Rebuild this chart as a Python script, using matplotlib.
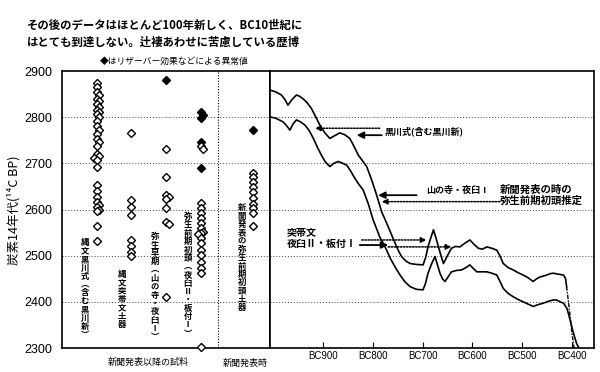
#!/usr/bin/env python3
"""
Radiocarbon dates of Jomon / Yayoi pottery samples vs. the calibration band.
Left: measured 14C ages per sample group. Right: calibration curve band.
"""

import matplotlib
matplotlib.use('Agg')
import matplotlib.pyplot as plt

plt.rcParams['font.family'] = ['Noto Sans CJK JP', 'DejaVu Sans']

# ---- data -------------------------------------------------------------
group_pos = [1, 2, 3, 4, 5.5]
group_labels = [
    "縄文黒川式︵含む黒川新︶",
    "縄文突帯文土器",
    "弥生早期︵山の寺・夜臼Ⅰ︶",
    "弥生前期初頭︵夜臼Ⅱ・板付Ⅰ︶",
    "新聞発表の弥生前期初頭土器",
]
open_vals = [
    [2875, 2865, 2855, 2847, 2840, 2834, 2828, 2822, 2816, 2812, 2806, 2800,
     2791, 2780, 2772, 2763, 2752, 2746, 2738, 2720, 2715, 2712, 2707, 2692,
     2652, 2640, 2628, 2617, 2609, 2605, 2600, 2596, 2565, 2532],
    [2765, 2620, 2605, 2589, 2535, 2520, 2509, 2499],
    [2731, 2671, 2632, 2627, 2622, 2604, 2572, 2568, 2410],
    [2737, 2730, 2613, 2603, 2592, 2581, 2570, 2559, 2552, 2550, 2548, 2538,
     2527, 2512, 2501, 2487, 2473, 2462, 2302],
    [2680, 2670, 2659, 2648, 2637, 2624, 2612, 2603, 2592, 2564],
]
filled_vals = [
    [],
    [],
    [2880],
    [2811, 2805, 2799, 2747, 2690],
    [2772],
]

# calibration band (BC year, 14C BP)
upper_bc = [1004, 995, 983, 976, 970, 962, 953, 946, 940, 932, 923, 914, 906,
            896, 886, 876, 866, 856, 846, 838, 829, 820, 812, 802, 792, 782,
            775, 769, 762, 755, 748, 742, 733, 725, 712, 699, 694, 689, 683,
            678, 673, 668, 663, 658, 650, 642, 634, 625, 615, 605, 597, 588,
            580, 571, 561, 551, 545, 538, 528, 518, 508, 498, 488, 478, 471,
            464, 457, 451, 444, 438, 428, 417, 413, 411]
upper_c14 = [2858, 2855, 2848, 2838, 2826, 2838, 2848, 2845, 2840, 2832, 2819,
             2800, 2783, 2766, 2754, 2760, 2766, 2762, 2754, 2738, 2718, 2705,
             2693, 2664, 2631, 2595, 2578, 2563, 2545, 2527, 2510, 2498, 2488,
             2483, 2481, 2480, 2495, 2519, 2540, 2556, 2538, 2519, 2500, 2483,
             2500, 2516, 2520, 2519, 2527, 2534, 2525, 2516, 2514, 2519, 2516,
             2512, 2500, 2483, 2474, 2469, 2463, 2458, 2452, 2444, 2450, 2454,
             2456, 2458, 2461, 2462, 2460, 2458, 2450, 2433]
upper_tail_bc = [411, 405, 400, 396]
upper_tail_c14 = [2433, 2380, 2330, 2300]

lower_bc = [1004, 995, 980, 973, 966, 960, 953, 945, 936, 928, 919, 911, 903,
            895, 886, 878, 869, 860, 852, 844, 836, 828, 819, 809, 799, 792,
            786, 779, 772, 766, 759, 752, 745, 735, 725, 712, 699, 694, 689,
            682, 675, 670, 665, 660, 655, 648, 642, 632, 622, 613, 605, 598,
            591, 581, 571, 561, 551, 545, 538, 528, 518, 508, 498, 488, 478,
            468, 458, 448, 438, 431, 424, 417, 410, 404, 398, 391, 384]
lower_c14 = [2800, 2798, 2790, 2782, 2772, 2785, 2794, 2790, 2783, 2772, 2754,
             2735, 2718, 2703, 2693, 2700, 2704, 2700, 2696, 2683, 2668, 2655,
             2642, 2613, 2577, 2558, 2541, 2527, 2512, 2497, 2483, 2470, 2458,
             2443, 2433, 2427, 2426, 2440, 2462, 2482, 2498, 2480, 2462, 2450,
             2444, 2455, 2465, 2468, 2469, 2474, 2480, 2472, 2465, 2465, 2465,
             2462, 2458, 2445, 2429, 2418, 2411, 2405, 2400, 2395, 2390, 2394,
             2397, 2401, 2404, 2404, 2400, 2397, 2385, 2361, 2335, 2310, 2296]

bc_ticks = [900, 800, 700, 600, 500, 400]
bc_tick_labels = ['BC900', 'BC800', 'BC700', 'BC600', 'BC500', 'BC400']
y_ticks = [2300, 2400, 2500, 2600, 2700, 2800, 2900]

# arrows: (tail BC, head BC, 14C, style)
arrows = [
    (782, 832, 2761, '-'),
    (786, 916, 2776, ':'),
    (712, 789, 2631, '-'),
    (545, 782, 2617, ':'),
    (822, 692, 2534, ':'),
    (826, 769, 2523, '-'),
    (769, 642, 2519, ':'),
]


def swarm_offsets(vals, dy=9.0, dx=0.08):
    """Cheap beeswarm: push close neighbours sideways."""
    placed = []
    offs = []
    for v in vals:
        for cand in [0, dx, -dx, 2 * dx, -2 * dx]:
            if all(abs(v - pv) >= dy or abs(cand - po) >= dx * 0.9 for pv, po in placed):
                break
        placed.append((v, cand))
        offs.append(cand)
    return offs


def vtext(ax, x, y, s, size=6, step=6.0):
    """Japanese vertical text, one glyph per row."""
    for i, ch in enumerate(s):
        ax.annotate(ch, (x, y), xytext=(0, -size * 0.88 - i * step),
                    textcoords='offset points', ha='center', va='baseline',
                    fontsize=size, fontweight='bold', annotation_clip=False)


fig = plt.figure(figsize=(6, 3.72), dpi=100)
W, H = 600, 372
ax1 = fig.add_axes([62 / W, 1 - 348 / H, 208 / W, 277 / H])
ax2 = fig.add_axes([270 / W, 1 - 348 / H, 324 / W, 277 / H])

# ---- left panel ---------------------------------------------------------
for pos, ov, fv in zip(group_pos, open_vals, filled_vals):
    allv = sorted([(v, 0) for v in ov] + [(v, 1) for v in fv], reverse=True)
    offs = swarm_offsets([v for v, _ in allv])
    for (v, kind), o in zip(allv, offs):
        ax1.plot(pos + o, v, marker='D', ms=3.9, mew=1.0, mec='k',
                 mfc='k' if kind else 'white', clip_on=False, zorder=4)

label_xy = [(0.66, 2538), (1.73, 2469), (2.68, 2551), (3.63, 2595), (5.19, 2614)]
for (lx, ly), lab in zip(label_xy, group_labels):
    vtext(ax1, lx, ly, lab)

ax1.axvline(4.5, color='k', lw=0.8, ls=(0, (1, 1.5)))
ax1.set_xlim(0, 6)
ax1.set_ylim(2300, 2900)
ax1.set_xticks([])
ax1.set_yticks(y_ticks)
ax1.set_yticklabels([str(t) for t in y_ticks], family='Liberation Sans', fontsize=9)
ax1.tick_params(axis='y', length=0, pad=7)
for t in y_ticks[1:-1]:
    ax1.axhline(t, color='#444444', lw=0.7, ls=(0, (1, 2)), zorder=1)
for sp in ax1.spines.values():
    sp.set_linewidth(1.2)

ax1.text(2.5, -0.035, "新聞発表以降の試料", transform=ax1.get_xaxis_transform(),
         ha='center', va='top', fontsize=6.5)
ax1.text(5.3, -0.04, "新聞発表時", transform=ax1.get_xaxis_transform(),
         ha='center', va='top', fontsize=6.5)

# ---- right panel --------------------------------------------------------
ax2.plot(upper_bc, upper_c14, color='k', lw=1.2, zorder=3)
ax2.plot(upper_tail_bc, upper_tail_c14, color='k', lw=1.0, ls=(0, (3, 1, 1, 1)), zorder=3)
ax2.plot(lower_bc, lower_c14, color='k', lw=1.2, zorder=3)
ax2.set_xlim(1006, 356)
ax2.set_ylim(2300, 2900)
ax2.set_yticks([])
ax2.set_xticks(bc_ticks)
ax2.set_xticklabels(bc_tick_labels, family='Liberation Sans', fontsize=7)
ax2.tick_params(axis='x', direction='in', length=4, width=0.8, pad=2)
for t in y_ticks[1:-1]:
    ax2.axhline(t, color='#444444', lw=0.7, ls=(0, (1, 2)), zorder=1)
for sp in ax2.spines.values():
    sp.set_linewidth(1.2)

for tail, head, c, ls in arrows:
    solid = ls == '-'
    ax2.annotate('', xy=(head, c), xytext=(tail, c),
                 arrowprops=dict(arrowstyle='-|>', color='k', lw=1.3 if solid else 1.1,
                                 linestyle='-' if solid else (0, (1, 1)),
                                 mutation_scale=10 if solid else 8,
                                 shrinkA=0, shrinkB=0))

ax2.text(776, 2769, "黒川式(含む黒川新)", fontsize=6.5, fontweight='bold', va='center')
ax2.text(692, 2642, "山の寺・夜臼Ⅰ", fontsize=6.5, fontweight='bold', va='center')
ax2.text(545, 2631, "新聞発表の時の\n弥生前期初頭推定", fontsize=7.5, fontweight='bold',
         va='center', linespacing=1.1)
ax2.text(972, 2537, "突帯文\n夜臼Ⅱ・板付Ⅰ", fontsize=7.2, fontweight='bold',
         va='center', linespacing=1.1)

# ---- titles -------------------------------------------------------------
fig.text(27 / W, 1 - 25 / H, "その後のデータはほとんど100年新しく、BC10世紀に",
         fontsize=8.2, fontweight='bold', va='center')
fig.text(27 / W, 1 - 42 / H, "はとても到達しない。辻褄あわせに苦慮している歴博",
         fontsize=8.2, fontweight='bold', va='center')
fig.text(100 / W, 1 - 61 / H, "◆はリザーバー効果などによる異常値", fontsize=6.3, va='center')
fig.text(14 / W, 1 - 210 / H, "炭素14年代(¹⁴C BP)", rotation=90, fontsize=9,
         ha='center', va='center')

fig.savefig('out.png', dpi=100)
